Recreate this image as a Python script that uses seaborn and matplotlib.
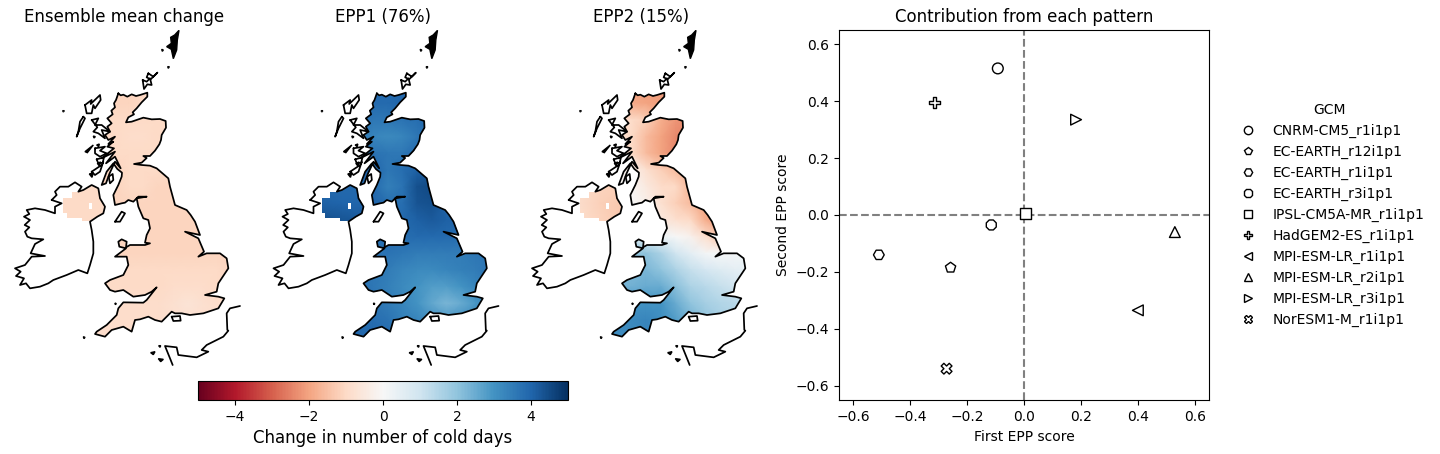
import numpy as np
import pandas as pd
import matplotlib
matplotlib.use("Agg")
import matplotlib.pyplot as plt
import seaborn as sns
from matplotlib.path import Path
from matplotlib.patches import PathPatch

# ---------- scatter data ----------
gcms = ["CNRM-CM5_r1i1p1", "EC-EARTH_r12i1p1", "EC-EARTH_r1i1p1", "EC-EARTH_r3i1p1",
        "IPSL-CM5A-MR_r1i1p1", "HadGEM2-ES_r1i1p1", "MPI-ESM-LR_r1i1p1",
        "MPI-ESM-LR_r2i1p1", "MPI-ESM-LR_r3i1p1", "NorESM1-M_r1i1p1"]
epp1_score = [-0.092, -0.258, -0.51, -0.115, 0.005, -0.315, 0.40, 0.53, 0.183, -0.272]
epp2_score = [0.515, -0.185, -0.14, -0.035, 0.005, 0.395, -0.335, -0.06, 0.335, -0.54]
marker_styles = ["o", "p", "H", "8", "s", "P", "<", "^", ">", "X"]

titles = ["Ensemble mean change", "EPP1 (76%)", "EPP2 (15%)"]

# ---------- fields: map coordinates ----------
grid_x = [280, 344, 388, 432, 476, 520, 564, 608, 652, 696]
grid_y = [200, 250, 300, 350, 400, 450, 500, 550, 600, 650, 700, 750, 800, 850, 900, 960]

mean_field = [
    [-1.1, -1.1, -1.1, -1.1, -1.0, -1.0, -1.0, -1.0, -1.0, -1.0],
    [-1.1, -1.1, -1.1, -1.0, -1.0, -1.0, -1.0, -1.0, -1.0, -1.0],
    [-1.0, -1.0, -1.0, -1.0, -1.0, -1.0, -1.0, -1.0, -1.0, -1.0],
    [-1.0, -1.0, -0.9, -0.9, -1.0, -1.0, -1.0, -1.0, -1.0, -1.0],
    [-1.0, -1.0, -1.0, -1.0, -1.0, -1.0, -1.0, -1.0, -1.0, -1.0],
    [-1.1, -1.1, -1.0, -1.0, -1.0, -1.0, -1.0, -1.0, -1.0, -1.0],
    [-1.1, -1.1, -1.0, -1.0, -1.1, -1.1, -1.1, -1.0, -1.0, -1.0],
    [-1.1, -1.1, -1.1, -1.1, -1.1, -1.1, -1.1, -1.1, -1.0, -1.0],
    [-1.1, -1.1, -1.1, -1.1, -1.1, -1.1, -1.1, -1.1, -1.1, -1.1],
    [-1.1, -1.1, -1.1, -1.1, -1.1, -1.1, -1.1, -1.1, -1.1, -1.1],
    [-1.1, -1.1, -1.1, -1.1, -1.1, -1.1, -1.1, -1.1, -1.1, -1.1],
    [-1.0, -1.0, -1.0, -1.0, -1.0, -1.0, -1.0, -1.0, -1.0, -1.1],
    [-1.0, -1.0, -1.0, -1.0, -1.0, -0.9, -0.9, -0.9, -1.0, -1.0],
    [-0.9, -0.9, -0.9, -0.9, -0.9, -0.8, -0.7, -0.8, -0.9, -0.9],
    [-0.9, -0.9, -0.9, -0.9, -0.9, -0.8, -0.8, -0.8, -0.9, -0.9],
    [-0.9, -0.9, -0.9, -0.9, -0.9, -0.9, -0.9, -0.9, -0.9, -0.9],
]
epp1_field = [
    [3.9, 3.9, 3.9, 3.9, 3.9, 3.9, 3.9, 3.9, 3.9, 3.9],
    [3.9, 3.9, 3.9, 4.0, 4.0, 3.9, 3.9, 3.9, 3.9, 3.9],
    [3.8, 3.6, 3.6, 3.7, 3.8, 3.9, 3.9, 3.9, 3.9, 3.9],
    [3.7, 3.3, 3.2, 3.3, 3.6, 3.9, 3.9, 3.9, 3.9, 3.9],
    [3.9, 3.7, 3.6, 3.6, 3.9, 4.0, 4.0, 4.0, 4.0, 4.0],
    [4.0, 4.0, 3.6, 3.8, 4.1, 4.2, 4.2, 4.2, 4.2, 4.2],
    [4.0, 3.9, 3.4, 3.7, 4.4, 4.5, 4.2, 4.1, 4.1, 4.1],
    [4.0, 4.0, 3.8, 3.8, 4.3, 4.4, 4.0, 4.0, 4.0, 4.0],
    [3.9, 3.9, 3.9, 3.9, 4.1, 4.2, 4.1, 4.0, 4.0, 4.0],
    [3.8, 3.8, 3.8, 3.8, 3.9, 3.9, 3.9, 3.8, 3.8, 3.8],
    [3.8, 3.7, 3.7, 3.6, 3.5, 3.5, 3.5, 3.5, 3.6, 3.6],
    [3.8, 3.6, 3.5, 3.3, 3.2, 3.2, 3.3, 3.4, 3.5, 3.7],
    [3.8, 3.6, 3.4, 3.2, 3.0, 2.8, 2.8, 3.0, 3.3, 3.6],
    [3.8, 3.7, 3.5, 3.3, 3.0, 2.6, 2.3, 2.5, 2.9, 3.3],
    [3.9, 3.8, 3.7, 3.4, 3.3, 3.1, 2.9, 3.1, 3.3, 3.5],
    [4.0, 4.0, 3.9, 3.7, 3.6, 3.5, 3.4, 3.4, 3.5, 3.6],
]
epp2_field = [
    [-2.0, -2.0, -2.1, -2.1, -2.2, -2.2, -2.2, -2.2, -2.2, -2.2],
    [-1.8, -1.9, -2.0, -2.1, -2.2, -2.2, -2.2, -2.2, -2.2, -2.2],
    [-1.0, -0.9, -1.2, -1.8, -2.2, -2.4, -2.4, -2.4, -2.4, -2.4],
    [-0.8, -1.0, -1.6, -2.0, -2.4, -2.6, -2.6, -2.6, -2.6, -2.6],
    [-0.6, -1.0, -1.6, -2.0, -2.4, -2.4, -2.4, -2.4, -2.4, -2.4],
    [-0.2, -0.3, -0.8, -1.2, -1.6, -1.8, -2.0, -2.0, -2.0, -2.0],
    [0.0, -0.1, -0.5, -0.9, -1.0, -1.7, -2.2, -2.2, -2.2, -2.2],
    [0.1, 0.0, -0.3, -0.8, -1.2, -1.6, -2.0, -2.0, -2.0, -2.0],
    [0.3, 0.2, -0.1, -0.5, -0.8, -1.0, -1.8, -2.2, -2.2, -2.2],
    [1.0, 0.8, 0.5, 0.3, 0.0, -0.2, -0.8, -1.4, -1.6, -1.6],
    [2.0, 2.0, 2.0, 1.6, 1.0, 0.5, 0.1, 0.0, 0.1, 0.2],
    [2.0, 2.2, 2.3, 2.0, 1.6, 1.2, 0.9, 0.7, 0.5, 0.4],
    [2.4, 2.4, 2.5, 2.5, 2.1, 1.6, 1.4, 1.2, 1.0, 0.9],
    [3.0, 3.0, 3.0, 3.0, 2.5, 2.0, 1.7, 1.5, 1.4, 1.2],
    [3.1, 3.2, 3.3, 3.1, 2.8, 2.4, 2.0, 1.7, 1.5, 1.3],
    [3.2, 3.2, 3.3, 3.1, 2.8, 2.4, 2.0, 1.7, 1.5, 1.3],
]

ni_x = [170, 250, 330]
ni_y = [490, 550, 615]
ni_fields = [
    [[-0.95, -1.0, -1.0], [-0.95, -1.0, -1.0], [-1.0, -1.0, -1.0]],
    [[3.9, 3.9, 3.9], [4.1, 4.0, 4.0], [4.5, 4.4, 4.2]],
    [[-0.8, -1.1, -1.2], [-0.8, -1.2, -1.4], [-0.8, -1.1, -1.5]],
]

# ---------- coastlines: map coordinates ----------
great_britain = [
    (355, 220), (362, 226), (370, 224), (382, 230), (395, 223), (408, 228), (420, 225), (442, 218), (442, 230),
    (425, 247), (410, 265), (398, 277), (402, 283), (385, 292), (378, 307), (395, 305), (415, 298), (430, 293),
    (455, 298), (480, 297), (497, 303), (498, 323), (485, 345), (483, 360), (478, 373), (465, 392), (450, 408),
    (430, 408), (440, 414), (425, 428), (402, 432), (425, 435), (450, 437), (470, 445), (490, 462), (505, 475),
    (510, 500), (518, 530), (525, 555), (560, 570), (572, 585), (585, 605), (600, 645), (555, 635), (595, 655),
    (612, 695), (595, 710), (620, 700), (660, 700), (680, 715), (685, 745), (665, 775), (655, 790), (650, 815),
    (615, 825), (655, 830), (673, 835), (655, 865), (610, 880), (570, 885), (545, 880), (525, 880), (515, 875),
    (485, 905), (465, 900), (445, 890), (420, 898), (405, 900), (395, 935), (370, 920), (335, 930), (315, 950),
    (285, 942), (290, 935), (320, 915), (350, 885), (355, 865), (370, 847), (430, 848), (440, 840), (470, 802),
    (455, 815), (435, 825), (400, 830), (370, 810), (345, 815), (330, 810), (315, 790), (330, 780), (370, 765),
    (385, 735), (380, 710), (345, 710), (378, 685), (358, 680), (355, 665), (365, 658), (380, 665), (378, 682),
    (390, 675), (435, 675), (450, 670), (435, 668), (440, 645), (450, 625), (445, 600), (430, 595), (415, 560),
    (410, 535), (440, 530), (415, 530), (400, 545), (385, 540), (375, 548), (365, 550), (345, 555), (340, 525),
    (355, 495), (365, 470), (366, 458), (352, 447), (340, 430), (320, 455), (305, 495), (318, 490), (328, 462),
    (345, 425), (362, 445), (345, 410), (318, 430), (345, 395), (305, 415), (342, 385), (322, 380), (340, 365),
    (325, 372), (345, 350), (325, 360), (315, 345), (330, 335), (322, 320), (335, 310), (322, 295), (338, 283),
    (334, 272), (345, 262), (342, 250), (348, 240), (355, 220),
]
ireland = [
    (155, 540), (170, 525), (165, 515), (180, 500), (205, 500), (225, 487), (245, 500), (235, 515), (250, 510),
    (275, 495), (295, 505), (300, 535), (315, 560), (310, 580), (292, 590), (270, 605), (275, 630), (280, 665),
    (280, 700), (270, 735), (262, 760), (235, 750), (200, 765), (160, 780), (145, 790), (120, 800), (90, 805),
    (78, 790), (60, 795), (72, 775), (48, 768), (62, 755), (45, 745), (75, 735), (95, 710), (135, 708), (92, 700),
    (105, 672), (130, 658), (95, 655), (82, 650), (75, 635), (88, 622), (74, 615), (90, 600), (72, 590), (88, 582),
    (80, 570), (105, 565), (135, 570), (165, 580), (165, 560), (185, 550), (155, 540),
]
ni_mask = [
    (190, 533), (215, 533), (215, 515), (235, 515), (250, 510), (275, 495), (295, 505), (300, 535), (315, 560),
    (310, 580), (292, 590), (270, 603), (245, 603), (245, 593), (200, 593), (200, 578), (190, 578),
]
ni_hole = [(267, 550), (267, 567), (276, 567), (276, 550)]
france = [
    (720, 858), (690, 865), (680, 880), (682, 930), (685, 932), (670, 950), (620, 975), (605, 990), (625, 995),
    (590, 1012), (535, 1005), (530, 982), (495, 978), (510, 1015), (518, 1035),
]
filled_islands = [
    [(512, 52), (524, 45), (537, 31), (532, 60), (530, 90), (520, 116), (514, 88), (500, 80), (514, 70)],
    [(452, 998), (465, 995), (460, 1004)],
    [(475, 1016), (490, 1018), (482, 1025)],
    [(476, 977), (482, 977), (480, 982)],
    [(485, 88), (490, 90), (487, 94)],
    [(503, 140), (508, 140), (505, 145)],
    [(188, 272), (193, 272), (190, 276)],
    [(250, 950), (255, 952), (252, 956)],
    [(345, 849), (349, 851), (346, 854)],
    [(255, 395), (280, 375), (262, 398)],
    [(280, 348), (286, 350), (282, 354)],
    [(290, 375), (298, 372), (296, 380)],
    [(292, 430), (302, 426), (298, 438)],
    [(268, 462), (280, 458), (276, 472)],
]
outline_islands = [
    [(428, 180), (440, 185), (450, 175), (455, 195), (442, 193), (432, 207)],
    [(445, 160), (460, 170), (472, 158), (452, 178), (440, 172)],
    [(255, 255), (275, 240), (272, 252), (300, 225), (302, 240), (285, 265), (280, 255), (275, 280), (260, 280)],
    [(250, 290), (255, 295), (240, 325), (230, 350), (235, 335), (240, 305)],
    [(275, 300), (295, 295), (285, 315), (305, 315), (330, 335), (305, 330), (315, 355), (295, 340), (280, 335), (292, 322)],
    [(285, 385), (315, 380), (300, 392), (320, 400), (300, 410), (285, 400)],
    [(290, 418), (312, 412), (308, 428), (295, 430)],
    [(275, 455), (305, 435), (310, 425), (300, 455), (285, 465)],
    [(326, 470), (338, 462), (340, 480), (330, 490)],
    [(345, 605), (365, 575), (375, 580), (360, 605)],
    [(515, 890), (540, 888), (542, 902), (520, 903)],
]

sns.set_theme(style="white", rc={"font.family": ["DejaVu Sans"]})
plt.rcParams["axes.edgecolor"] = "black"
plt.rcParams["text.color"] = "black"
plt.rcParams["axes.labelcolor"] = "black"
plt.rcParams["xtick.color"] = "black"
plt.rcParams["ytick.color"] = "black"

W, H = 1440, 454
fig = plt.figure(figsize=(W / 100, H / 100), dpi=100)
cmap = plt.get_cmap("RdBu")


def rect(x0, y0, x1, y1):
    return [x0 / W, 1 - y1 / H, (x1 - x0) / W, (y1 - y0) / H]


panel_fields = [mean_field, epp1_field, epp2_field]
panel_lefts = [8.5, 267.0, 525.5]
COAST_LW = 1.25
mesh = None
for i, left in enumerate(panel_lefts):
    ax = fig.add_axes(rect(left, 30, left + 232, 365))
    ax.set_xlim(25.5, 721.5)
    ax.set_ylim(1035, 30)
    ax.axis("off")
    ax.set_title(titles[i], fontsize=12, pad=6, color="black")
    ax.title.set_visible(True)

    gx, gy = np.meshgrid(grid_x, grid_y)
    mesh = ax.pcolormesh(gx, gy, np.array(panel_fields[i]), cmap=cmap, vmin=-5, vmax=5, shading="gouraud")
    gb_codes = [Path.MOVETO] + [Path.LINETO] * (len(great_britain) - 1)
    mesh.set_clip_path(PathPatch(Path(great_britain, gb_codes), transform=ax.transData))

    nx, ny = np.meshgrid(ni_x, ni_y)
    ni_mesh = ax.pcolormesh(nx, ny, np.array(ni_fields[i]), cmap=cmap, vmin=-5, vmax=5, shading="gouraud")
    verts = ni_mask + [ni_mask[0]] + ni_hole + [ni_hole[0]]
    codes = ([Path.MOVETO] + [Path.LINETO] * (len(ni_mask) - 1) + [Path.CLOSEPOLY]
             + [Path.MOVETO] + [Path.LINETO] * (len(ni_hole) - 1) + [Path.CLOSEPOLY])
    ni_mesh.set_clip_path(PathPatch(Path(verts, codes), transform=ax.transData))

    for line in [great_britain, ireland, france]:
        arr = np.array(line)
        ax.plot(arr[:, 0], arr[:, 1], color="black", lw=COAST_LW, solid_joinstyle="round", clip_on=False)
    for isl in outline_islands:
        arr = np.array(isl + [isl[0]])
        ax.plot(arr[:, 0], arr[:, 1], color="black", lw=COAST_LW, solid_joinstyle="round")
    for isl in filled_islands:
        arr = np.array(isl + [isl[0]])
        ax.fill(arr[:, 0], arr[:, 1], facecolor="black", edgecolor="black", lw=1.0)

# ---------- colourbar ----------
cax = fig.add_axes(rect(198, 381, 568, 400))
cb = fig.colorbar(mesh, cax=cax, orientation="horizontal")
cb.set_ticks([-4, -2, 0, 2, 4])
cb.ax.tick_params(labelsize=10, length=3.5, width=0.8, bottom=True)
cb.set_label("Change in number of cold days", fontsize=12)
cb.outline.set_edgecolor("black")
cb.outline.set_linewidth(0.8)

# ---------- scatter ----------
df = pd.DataFrame({"GCM": gcms, "First EPP score": epp1_score, "Second EPP score": epp2_score})
ax4 = fig.add_axes(rect(839, 30, 1209, 400))
sns.scatterplot(data=df, x="First EPP score", y="Second EPP score", style="GCM",
                style_order=gcms, markers=dict(zip(gcms, marker_styles)), color="white",
                edgecolor="black", linewidth=1.0, s=60, ax=ax4, zorder=3)
ax4.axhline(0, color="grey", ls="--", lw=1.5, zorder=2)
ax4.axvline(0, color="grey", ls="--", lw=1.5, zorder=2)
ax4.set_xlim(-0.65, 0.65)
ax4.set_ylim(-0.65, 0.65)
ax4.set_xticks(np.arange(-0.6, 0.61, 0.2))
ax4.set_yticks(np.arange(-0.6, 0.61, 0.2))
ax4.tick_params(labelsize=10, length=3.5, width=0.8, bottom=True, left=True)
ax4.set_xlabel("First EPP score", fontsize=10, labelpad=4.3)
ax4.set_ylabel("Second EPP score", fontsize=10)
ax4.set_title("Contribution from each pattern", fontsize=12, color="black")
for s in ax4.spines.values():
    s.set_linewidth(0.8)
    s.set_edgecolor("black")

handles, labels = ax4.get_legend_handles_labels()
for h in handles:
    h.set_markerfacecolor("white")
    h.set_markeredgecolor("black")
    h.set_markeredgewidth(1.0)
    h.set_markersize(6)
leg = ax4.legend(handles, labels, title="GCM", frameon=False, fontsize=10, title_fontsize=10,
                 loc="center left", bbox_to_anchor=(1.052, 0.5), borderaxespad=0)

fig.savefig("out.png", dpi=100)
